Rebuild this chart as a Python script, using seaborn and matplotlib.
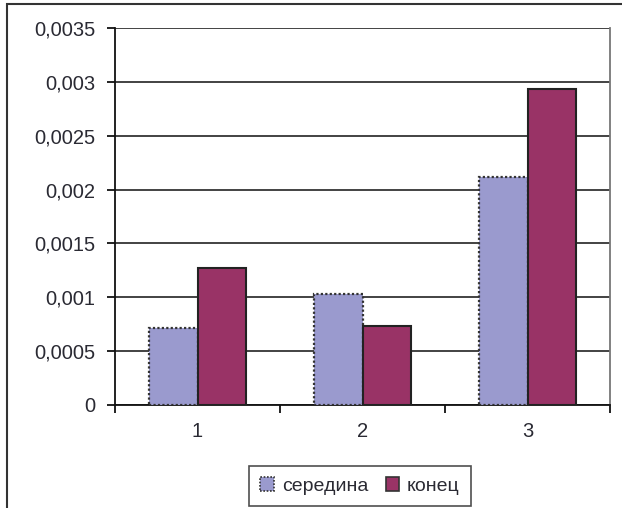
import matplotlib
matplotlib.use("Agg")
import matplotlib.pyplot as plt
import matplotlib.patches as mpatches
import seaborn as sns
import pandas as pd

# Data
categories = ["1", "2", "3"]
series_names = ["середина", "конец"]
mid_values = [0.000718, 0.001028, 0.002117]
end_values = [0.001269, 0.000736, 0.002934]
y_ticks = [0, 0.0005, 0.001, 0.0015, 0.002, 0.0025, 0.003, 0.0035]
y_tick_labels = ["0", "0,0005", "0,001", "0,0015", "0,002", "0,0025", "0,003", "0,0035"]

df = pd.DataFrame({
    "cat": categories * 2,
    "series": [series_names[0]] * 3 + [series_names[1]] * 3,
    "value": mid_values + end_values,
})

sns.set_theme(style="white")
plt.rcParams["font.family"] = ["Liberation Sans", "DejaVu Sans"]

W, H = 622, 508
fig = plt.figure(figsize=(W / 100, H / 100), dpi=100)
ax = fig.add_axes([115 / W, 1 - 405 / H, (610 - 115) / W, (405 - 28) / H])

palette = {"середина": "#9a9ace", "конец": "#993366"}
sns.barplot(data=df, x="cat", y="value", hue="series", palette=palette,
            width=0.59, saturation=1, ax=ax, legend=False, zorder=3)

# bar edges: dotted border on the first series, solid dark on the second
for i, patch in enumerate(ax.patches):
    if i < 3:
        patch.set_edgecolor("#333333")
        patch.set_linewidth(1.6)
        patch.set_linestyle((0, (1, 1)))
    else:
        patch.set_edgecolor("#222222")
        patch.set_linewidth(1.5)

ax.set_ylim(0, 0.0035)
ax.set_xlim(-0.5, 2.5)
ax.set_yticks(y_ticks)
ax.set_yticklabels(y_tick_labels)
ax.set_xlabel("")
ax.set_ylabel("")

ax.grid(axis="y", color="#222222", linewidth=1.2, zorder=0)
ax.set_axisbelow(True)

for side in ["left", "bottom"]:
    ax.spines[side].set_color("#111111")
    ax.spines[side].set_linewidth(1.3)
ax.spines["top"].set_visible(False)
ax.spines["right"].set_color("#777777")
ax.spines["right"].set_linewidth(1.3)

# category ticks sit between groups
ax.set_xticks([0, 1, 2])
ax.set_xticks([-0.5, 0.5, 1.5, 2.5], minor=True)
ax.tick_params(axis="x", which="major", length=0, pad=12, labelsize=14.5, labelcolor="#2a2a33")
ax.tick_params(axis="x", which="minor", length=6, width=1.3, color="#111111", direction="out")
ax.tick_params(axis="y", length=6, width=1.3, color="#111111", direction="out",
               pad=8, labelsize=14.5, labelcolor="#2a2a33")
ax.tick_params(bottom=True, left=True, which="both")

handles = [mpatches.Patch(facecolor=palette[s],
                          edgecolor="#333333",
                          linestyle=(0, (1, 1)) if j == 0 else "-",
                          linewidth=1.2,
                          label=s)
           for j, s in enumerate(series_names)]
leg = fig.legend(handles=handles, loc="center", ncol=2,
                 bbox_to_anchor=(360 / W, 1 - 486 / H),
                 frameon=True, fancybox=False, fontsize=14,
                 handlelength=0.7, handleheight=0.7, handletextpad=0.4,
                 columnspacing=0.9, borderpad=0.6)
leg.get_frame().set_edgecolor("#222222")
leg.get_frame().set_linewidth(1.2)
for t in leg.get_texts():
    t.set_color("#2a2a33")

# outer chart frame
fig.add_artist(mpatches.Rectangle((7 / W, -0.05), 1.1, 1 - 4 / H + 0.05,
                                  transform=fig.transFigure, fill=False,
                                  edgecolor="#333333", linewidth=1.5))

fig.savefig("out.png", dpi=100)
